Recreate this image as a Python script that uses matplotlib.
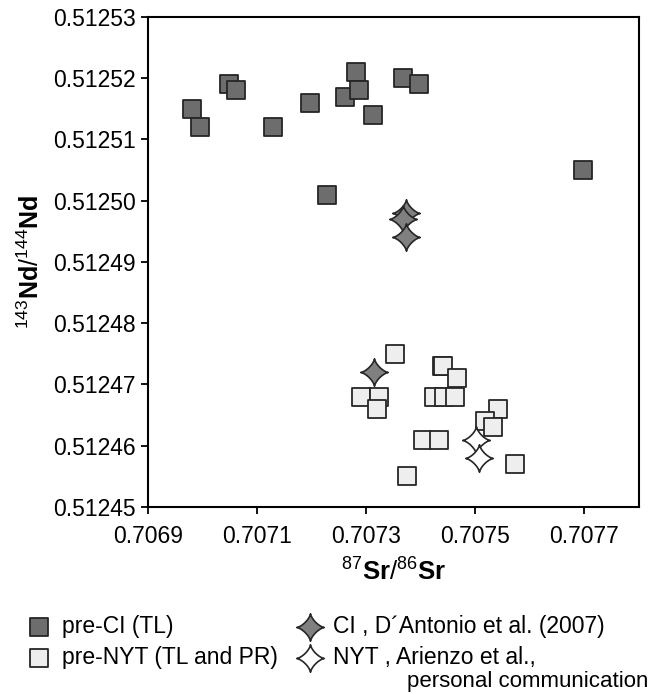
import numpy as np
import matplotlib
matplotlib.use("Agg")
import matplotlib.pyplot as plt
from matplotlib.path import Path
from matplotlib.ticker import FormatStrFormatter, MultipleLocator

plt.rcParams['font.family'] = ['Liberation Sans', 'DejaVu Sans']
plt.rcParams['mathtext.fontset'] = 'custom'
plt.rcParams['mathtext.rm'] = 'Liberation Sans'
plt.rcParams['mathtext.bf'] = 'Liberation Sans:bold'

# pre-CI (TL)
preci_sr = [0.706981, 0.706995, 0.707048, 0.707062, 0.707129, 0.707197, 0.707262,
            0.707282, 0.707287, 0.707312, 0.707368, 0.707397, 0.707228, 0.707698]
preci_nd = [0.512515, 0.512512, 0.512519, 0.512518, 0.512512, 0.512516, 0.512517,
            0.512521, 0.512518, 0.512514, 0.512520, 0.512519, 0.512501, 0.512505]

# pre-NYT (TL and PR)
prenyt_sr = [0.707353, 0.707439, 0.707441, 0.707467, 0.707291, 0.707323, 0.707320,
             0.707425, 0.707443, 0.707462, 0.707541, 0.707518, 0.707533, 0.707404,
             0.707433, 0.707573, 0.707375]
prenyt_nd = [0.512475, 0.512473, 0.512473, 0.512471, 0.512468, 0.512468, 0.512466,
             0.512468, 0.512468, 0.512468, 0.512466, 0.512464, 0.512463, 0.512461,
             0.512461, 0.512457, 0.512455]

# CI, D'Antonio et al. (2007)
ci_sr = [0.707373, 0.707367, 0.707373, 0.707315]
ci_nd = [0.512498, 0.512497, 0.512494, 0.512472]

# NYT, Arienzo et al.
nyt_sr = [0.707501, 0.707506]
nyt_nd = [0.512461, 0.512458]

# four pointed star with concave sides
t = np.linspace(0, 2 * np.pi, 81)
sx = np.sign(np.cos(t)) * np.abs(np.cos(t)) ** 2.8
sy = np.sign(np.sin(t)) * np.abs(np.sin(t)) ** 2.8
star = Path(np.column_stack([sx, sy]), closed=True)

fig = plt.figure(figsize=(6.49, 6.93), dpi=100)
ax = fig.add_axes([0.228, 0.2684, 0.7566, 0.7071])

ax.scatter(preci_sr, preci_nd, marker='s', s=165, c='#6d6d6d', edgecolors='#262626',
           linewidths=1.3, zorder=3, label='pre-CI (TL)')
ax.scatter(prenyt_sr, prenyt_nd, marker='s', s=165, c='#eeeeee', edgecolors='#262626',
           linewidths=1.3, zorder=3, label='pre-NYT (TL and PR)')
ax.scatter(ci_sr, ci_nd, marker=star, s=390, c='#808080', edgecolors='#262626',
           linewidths=1.2, zorder=4, label='CI , D\u00b4Antonio et al. (2007)')
ax.scatter(nyt_sr, nyt_nd, marker=star, s=390, c='white', edgecolors='#262626',
           linewidths=1.2, zorder=4, label='NYT , Arienzo et al.,')

ax.set_xlim(0.7069, 0.7078)
ax.set_ylim(0.51245, 0.51253)
ax.yaxis.set_major_locator(MultipleLocator(0.00001))
ax.xaxis.set_major_formatter(FormatStrFormatter('%.4f'))
ax.yaxis.set_major_formatter(FormatStrFormatter('%.5f'))
ax.set_xticks([0.7069, 0.7071, 0.7073, 0.7075, 0.7077])
ax.tick_params(direction='out', length=5, width=1.3, labelsize=16.5)
ax.tick_params(axis='y', pad=4)
ax.tick_params(axis='x', pad=8)
for sp in ax.spines.values():
    sp.set_linewidth(1.5)

ax.set_xlabel(r'$^{87}\mathbf{Sr}/^{86}\mathbf{Sr}$', fontsize=18.5, labelpad=6)
ax.set_ylabel(r'$^{143}\mathbf{Nd}/^{144}\mathbf{Nd}$', fontsize=18, labelpad=6)

fig.legend(loc='upper left', bbox_to_anchor=(0.0247, 0.1255), ncol=2, frameon=False,
           fontsize=16.5, handlelength=1.2, handletextpad=0.4, columnspacing=0.8,
           labelspacing=0.36, borderaxespad=0, scatterpoints=1)
fig.text(407 / 649, 1 - 682 / 693, 'personal communication', fontsize=16,
         ha='left', va='center')

fig.savefig('out.png', dpi=100)
